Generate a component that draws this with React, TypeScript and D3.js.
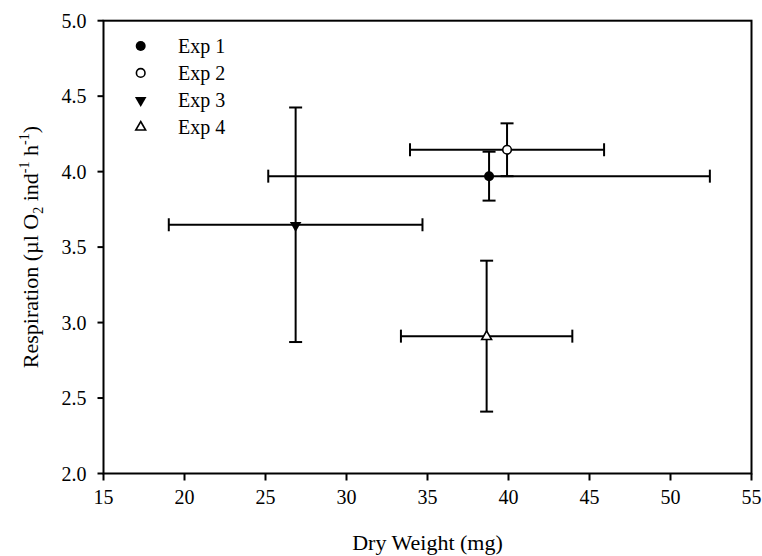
import React from "react";
import * as d3 from "d3";

const experiments = ["Exp 1", "Exp 2", "Exp 3", "Exp 4"];
const dryWeight = [38.8, 39.91, 26.86, 38.65];
const dryWeightErr = [13.63, 5.99, 7.83, 5.29];
const respiration = [3.97, 4.145, 3.648, 2.91];
const respirationErr = [0.162, 0.175, 0.777, 0.5];
const markerKinds = ["circleFilled", "circleOpen", "triDownFilled", "triUpOpen"];

const xTicks = [15, 20, 25, 30, 35, 40, 45, 50, 55];
const yTicks = [2.0, 2.5, 3.0, 3.5, 4.0, 4.5, 5.0];

const W = 762;
const H = 556;
const margin = { left: 103.5, right: 10.5, top: 20.7, bottom: 82.5 };
const FONT = '"Liberation Serif", "Times New Roman", serif';

function Marker({ kind, x, y }: { kind: string; x: number; y: number }) {
  const r = 5;
  if (kind === "circleFilled") return <circle cx={x} cy={y} r={r} fill="#000" />;
  if (kind === "circleOpen")
    return <circle cx={x} cy={y} r={4.3} fill="#fff" stroke="#000" strokeWidth={1.6} />;
  const tri = d3.symbol().type(d3.symbolTriangle).size(58)();
  if (kind === "triDownFilled")
    return <path d={tri || ""} transform={`translate(${x},${y + 0.5}) rotate(180)`} fill="#000" />;
  return (
    <path
      d={d3.symbol().type(d3.symbolTriangle).size(42)() || ""}
      transform={`translate(${x},${y + 0.5})`}
      fill="#fff"
      stroke="#000"
      strokeWidth={1.6}
    />
  );
}

export default function App() {
  const x = d3.scaleLinear().domain([15, 55]).range([margin.left, W - margin.right]);
  const y = d3.scaleLinear().domain([2, 5]).range([H - margin.bottom, margin.top]);
  const [x0, x1] = x.range();
  const [yb, yt] = y.range();
  const cap = 6.5;

  return (
    <svg
      width={W}
      height={H}
      style={{ position: "absolute", left: 0, top: 0, background: "#fff" }}
      fontFamily={FONT}
    >
      <rect x={0} y={0} width={W} height={H} fill="#fff" />
      {/* error bars */}
      {experiments.map((e, i) => {
        const cx = x(dryWeight[i]);
        const cy = y(respiration[i]);
        const xl = x(dryWeight[i] - dryWeightErr[i]);
        const xr = x(dryWeight[i] + dryWeightErr[i]);
        const yu = y(respiration[i] + respirationErr[i]);
        const yd = y(respiration[i] - respirationErr[i]);
        return (
          <g key={"eb" + e} stroke="#000" strokeWidth={2} fill="none">
            <line x1={xl} x2={xr} y1={cy} y2={cy} />
            <line x1={xl} x2={xl} y1={cy - cap} y2={cy + cap} />
            <line x1={xr} x2={xr} y1={cy - cap} y2={cy + cap} />
            <line x1={cx} x2={cx} y1={yu} y2={yd} />
            <line x1={cx - cap} x2={cx + cap} y1={yu} y2={yu} />
            <line x1={cx - cap} x2={cx + cap} y1={yd} y2={yd} />
          </g>
        );
      })}
      {experiments.map((e, i) => (
        <Marker key={"m" + e} kind={markerKinds[i]} x={x(dryWeight[i])} y={y(respiration[i])} />
      ))}
      {/* frame */}
      <rect x={x0} y={yt} width={x1 - x0} height={yb - yt} fill="none" stroke="#000" strokeWidth={2} />
      {/* x ticks */}
      {xTicks.map((t) => (
        <g key={"xt" + t}>
          <line x1={x(t)} x2={x(t)} y1={yb} y2={yb + 7} stroke="#000" strokeWidth={2} />
          <text x={x(t)} y={yb + 30} textAnchor="middle" fontSize={20} fill="#000">
            {t}
          </text>
        </g>
      ))}
      {/* y ticks */}
      {yTicks.map((t) => (
        <g key={"yt" + t}>
          <line x1={x0 - 6} x2={x0} y1={y(t)} y2={y(t)} stroke="#000" strokeWidth={2} />
          <text x={x0 - 17} y={y(t) + 7} textAnchor="end" fontSize={20} fill="#000">
            {d3.format(".1f")(t)}
          </text>
        </g>
      ))}
      {/* axis titles */}
      <text x={(x0 + x1) / 2} y={550} textAnchor="middle" fontSize={22} fill="#000">
        Dry Weight (mg)
      </text>
      <text
        transform={`translate(38,${(yb + yt) / 2}) rotate(-90)`}
        textAnchor="middle"
        fontSize={22}
        fill="#000"
      >
        Respiration (µl O<tspan fontSize={14} dy={5}>2</tspan>
        <tspan dy={-5}> ind</tspan>
        <tspan fontSize={14} dy={-9}>-1</tspan>
        <tspan dy={9}> h</tspan>
        <tspan fontSize={14} dy={-9}>-1</tspan>
        <tspan dy={9}>)</tspan>
      </text>
      {/* legend */}
      {experiments.map((e, i) => (
        <g key={"lg" + e}>
          <Marker kind={markerKinds[i]} x={140.7} y={46 + i * 26.9} />
          <text x={178} y={46 + i * 26.9 + 7} fontSize={20} fill="#000">
            {e}
          </text>
        </g>
      ))}
    </svg>
  );
}
